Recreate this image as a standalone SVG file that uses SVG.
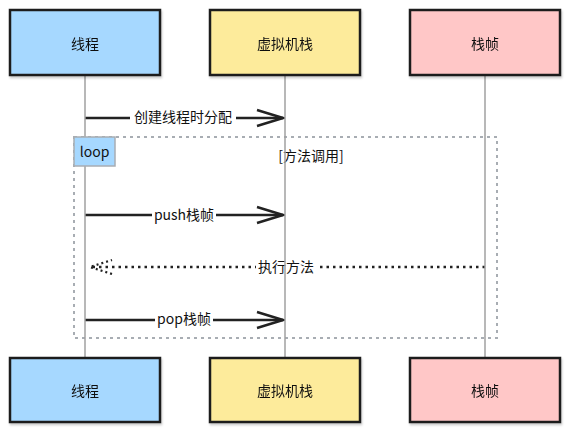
<svg xmlns="http://www.w3.org/2000/svg" width="570" height="434" viewBox="0 0 570 434">
<style>
.box{stroke:#1e1e1e;stroke-width:2.5}
.life{stroke:#a0a0a0;stroke-width:1.5}
.t{font-family:"Noto Sans CJK SC","Liberation Sans",sans-serif;font-size:14px;fill:#111;text-anchor:middle;dominant-baseline:central}
.msg{stroke:#222;stroke-width:2.5;fill:none}
.lbl{font-family:"Noto Sans CJK SC","Liberation Sans",sans-serif;font-size:14px;fill:#111;text-anchor:middle;dominant-baseline:central}
.bg{fill:#fff}
</style>
<defs>
<marker id="open" markerWidth="30" markerHeight="20" refX="28" refY="10" orient="auto" markerUnits="userSpaceOnUse">
<path d="M2 2 L28 10 L2 18" fill="none" stroke="#222" stroke-width="2.5"/>
</marker>
<marker id="openDot" markerWidth="30" markerHeight="20" refX="28" refY="10" orient="auto" markerUnits="userSpaceOnUse">
<path d="M6 3 L28 10 L6 17" fill="none" stroke="#222" stroke-width="2.2" stroke-dasharray="2 3"/>
</marker>
<filter id="sh" x="-5%" y="-5%" width="110%" height="115%"><feDropShadow dx="1" dy="2" stdDeviation="1" flood-color="#000" flood-opacity="0.2"/></filter>
</defs>
<g id="loop-frame">
<rect x="74" y="137" width="423" height="201" fill="none" stroke="#a8adb3" stroke-width="2" stroke-dasharray="3 4"/>
<text class="t" x="311" y="155">[方法调用]</text>
</g>
<g id="connectors">
<line class="msg" x1="85" y1="118" x2="283" y2="118" marker-end="url(#open)"/>
<rect class="bg" x="130" y="109" width="106" height="18"/>
<text class="lbl" x="183" y="116">创建线程时分配</text>
<line class="msg" x1="85" y1="215" x2="283" y2="215" marker-end="url(#open)"/>
<rect class="bg" x="152" y="206" width="64" height="18"/>
<text class="lbl" x="184" y="214">push栈帧</text>
<line class="msg" x1="485" y1="267" x2="90" y2="267" stroke-dasharray="2.5 4" marker-end="url(#openDot)"/>
<rect class="bg" x="256" y="258" width="60" height="18"/>
<text class="lbl" x="286" y="266">执行方法</text>
<line class="msg" x1="85" y1="320" x2="283" y2="320" marker-end="url(#open)"/>
<rect class="bg" x="155" y="311" width="58" height="18"/>
<text class="lbl" x="184" y="318">pop栈帧</text>
</g>
<g id="lifelines">
<line class="life" x1="85" y1="75" x2="85" y2="358"/>
<line class="life" x1="285" y1="75" x2="285" y2="358"/>
<line class="life" x1="485" y1="75" x2="485" y2="358"/>
</g>
<g id="loop-label">
<rect x="74" y="137" width="41" height="29" fill="#a6d8ff" stroke="#a8adb3" stroke-width="1.5"/>
<text class="t" x="94.5" y="151">loop</text>
</g>
<g id="thread-top" filter="url(#sh)">
<rect class="box" x="10" y="10" width="150" height="65" fill="#a6d8ff"/>
<text class="t" x="85" y="43">线程</text>
</g>
<g id="jvm-top" filter="url(#sh)">
<rect class="box" x="210" y="10" width="150" height="65" fill="#fdeb9b"/>
<text class="t" x="285" y="43">虚拟机栈</text>
</g>
<g id="frame-top" filter="url(#sh)">
<rect class="box" x="410" y="10" width="150" height="65" fill="#ffc7c7"/>
<text class="t" x="485" y="43">栈帧</text>
</g>
<g id="thread-bottom" filter="url(#sh)">
<rect class="box" x="10" y="358" width="150" height="64" fill="#a6d8ff"/>
<text class="t" x="85" y="390">线程</text>
</g>
<g id="jvm-bottom" filter="url(#sh)">
<rect class="box" x="210" y="358" width="150" height="64" fill="#fdeb9b"/>
<text class="t" x="285" y="390">虚拟机栈</text>
</g>
<g id="frame-bottom" filter="url(#sh)">
<rect class="box" x="410" y="358" width="150" height="64" fill="#ffc7c7"/>
<text class="t" x="485" y="390">栈帧</text>
</g>
</svg>
